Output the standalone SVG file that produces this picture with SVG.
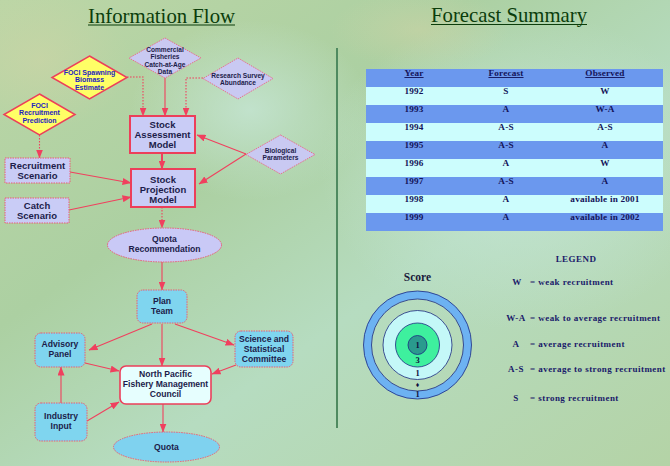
<svg xmlns="http://www.w3.org/2000/svg" width="670" height="466" viewBox="0 0 670 466">
<defs>
<linearGradient id="bg" x1="0" y1="0" x2="1" y2="1">
<stop offset="0" stop-color="#bcd6a6"/>
<stop offset="0.35" stop-color="#acd0a2"/>
<stop offset="0.6" stop-color="#b6dcc0"/>
<stop offset="1" stop-color="#b4d3a6"/>
</linearGradient>
<radialGradient id="glow1" cx="0.5" cy="0.5" r="0.5">
<stop offset="0" stop-color="#c6e6d6" stop-opacity="0.8"/>
<stop offset="1" stop-color="#c6e6d6" stop-opacity="0"/>
</radialGradient>
<radialGradient id="glow2" cx="0.5" cy="0.5" r="0.5">
<stop offset="0" stop-color="#d2d4a6" stop-opacity="0.5"/>
<stop offset="1" stop-color="#d2d4a6" stop-opacity="0"/>
</radialGradient>
<marker id="ah" markerUnits="userSpaceOnUse" markerWidth="9" markerHeight="7" refX="8.5" refY="3.5" orient="auto">
<path d="M0,0 L9,3.5 L0,7 z" fill="#f0405e"/>
</marker>
<style>
.box{fill:#c9ccf6;stroke:#ec3f5a;stroke-width:2}
.sbox{fill:#c9ccf6;stroke:#ec5a74;stroke-width:1;stroke-dasharray:1.5,1}
.dia{fill:#c9c9f2;stroke:#e8708e;stroke-width:1;stroke-dasharray:1.5,1}
.ydia{fill:#ffff66;stroke:#ec3f5a;stroke-width:1.5}
.cyan{fill:#7fd5ef;stroke:#ec5a74;stroke-width:1;stroke-dasharray:1.5,1}
.t{font-family:"Liberation Sans",Arial,sans-serif;font-weight:bold;fill:#1c1c4a;text-anchor:middle}
.tb{font-size:9.5px}
.ts{font-size:6.6px}
.ty{font-size:7px;fill:#2424c0}
.tc{font-size:8.6px}
.title{font-family:"Liberation Serif","Times New Roman",serif;font-size:21px;fill:#0b3d0b}
.tab{font-family:"Liberation Serif","Times New Roman",serif;font-weight:bold;font-size:9.2px;fill:#14145a;text-anchor:middle;letter-spacing:0.2px}
.leg{font-family:"Liberation Serif","Times New Roman",serif;font-weight:bold;font-size:9px;fill:#1a1a6a;letter-spacing:0.45px}
.c{fill:none;stroke:#f0405e;stroke-width:1.1;marker-end:url(#ah)}
.d{stroke-dasharray:1.6,1.4}
</style>
</defs>
<rect x="0" y="0" width="670" height="466" fill="url(#bg)"/>
<ellipse cx="520" cy="170" rx="200" ry="160" fill="url(#glow1)"/>
<ellipse cx="250" cy="110" rx="120" ry="90" fill="url(#glow1)"/>
<ellipse cx="40" cy="60" rx="90" ry="70" fill="url(#glow2)"/>
<ellipse cx="420" cy="30" rx="90" ry="40" fill="url(#glow2)"/>

<!-- titles -->
<g id="title-info">
<text class="title" x="88" y="23" textLength="147" lengthAdjust="spacingAndGlyphs">Information Flow</text>
<line x1="88" y1="25" x2="235" y2="25" stroke="#0b3d0b" stroke-width="1.2"/>
</g>
<g id="title-forecast">
<text class="title" x="431" y="22" textLength="156" lengthAdjust="spacingAndGlyphs">Forecast Summary</text>
<line x1="431" y1="24.5" x2="587" y2="24.5" stroke="#0b3d0b" stroke-width="1.2"/>
</g>
<line x1="337" y1="48" x2="337" y2="428" stroke="#4f8a60" stroke-width="2"/>

<!-- connectors -->
<g id="connectors">
<path class="c d" d="M127,77 H143 V116"/>
<path class="c" d="M165,78 V116"/>
<path class="c d" d="M203,78 H186 V116"/>
<path class="c d" d="M39.5,135 V158"/>
<path class="c" d="M246,154 L197,135"/>
<path class="c" d="M246,154 L199,184"/>
<path class="c" style="stroke-width:2" d="M162,153 V169"/>
<path class="c" d="M70,172 L131,183"/>
<path class="c" d="M69,210 L131,197"/>
<path class="c d" d="M162,207 V228"/>
<path class="c" d="M162,262 V290"/>
<path class="c" d="M152,324 L89,350"/>
<path class="c" d="M162,324 V366"/>
<path class="c" d="M175,324 L234,345"/>
<path class="c" d="M85,363 L119,371"/>
<path class="c" d="M236,365 L212,374"/>
<path class="c" d="M61,403 V367"/>
<path class="c" d="M87,421 L119,402"/>
<path class="c" d="M163,404 V432"/>
</g>

<!-- nodes -->
<g id="commercial">
<polygon class="dia" points="165,38 201,58 165,78 129,58"/>
<text class="t ts" x="165" y="52">Commercial</text>
<text class="t ts" x="165" y="59.3">Fisheries</text>
<text class="t ts" x="165" y="66.6">Catch-at-Age</text>
<text class="t ts" x="165" y="73.9">Data</text>
</g>
<g id="foci-spawning">
<polygon class="ydia" points="89.5,56 127,77.5 89.5,99 52,77.5"/>
<text class="t ty" x="89.5" y="75">FOCI Spawning</text>
<text class="t ty" x="89.5" y="82.3">Biomass</text>
<text class="t ty" x="89.5" y="89.6">Estimate</text>
</g>
<g id="research-survey">
<polygon class="dia" points="238,58 273,78.5 238,99 203,78.5"/>
<text class="t ts" x="238" y="77.5">Research Survey</text>
<text class="t ts" x="238" y="85">Abundance</text>
</g>
<g id="foci-recruitment">
<polygon class="ydia" points="39.5,94 75,114.5 39.5,135 4,114.5"/>
<text class="t ty" x="39.5" y="108">FOCI</text>
<text class="t ty" x="39.5" y="115.3">Recruitment</text>
<text class="t ty" x="39.5" y="122.6">Prediction</text>
</g>
<g id="stock-assessment">
<rect class="box" x="130" y="116" width="65" height="37"/>
<text class="t tb" x="162.5" y="127.5">Stock</text>
<text class="t tb" x="162.5" y="137.8">Assessment</text>
<text class="t tb" x="162.5" y="148.1">Model</text>
</g>
<g id="biological">
<polygon class="dia" points="280.5,135 315,154.5 280.5,174 246,154.5"/>
<text class="t ts" x="280.5" y="152.5">Biological</text>
<text class="t ts" x="280.5" y="160">Parameters</text>
</g>
<g id="recruitment-scenario">
<rect class="sbox" x="5" y="158" width="65" height="25"/>
<text class="t tb" x="37.5" y="169">Recruitment</text>
<text class="t tb" x="37.5" y="179">Scenario</text>
</g>
<g id="stock-projection">
<rect class="box" x="131" y="169" width="64" height="38"/>
<text class="t tb" x="163" y="182.5">Stock</text>
<text class="t tb" x="163" y="192.8">Projection</text>
<text class="t tb" x="163" y="203.1">Model</text>
</g>
<g id="catch-scenario">
<rect class="sbox" x="5" y="198" width="64" height="25"/>
<text class="t tb" x="37" y="209">Catch</text>
<text class="t tb" x="37" y="219">Scenario</text>
</g>
<g id="quota-recommendation">
<ellipse cx="164.5" cy="245" rx="57" ry="17" fill="#c9c9f6" stroke="#ec5a74" stroke-width="1" stroke-dasharray="1.5,1"/>
<text class="t tc" x="164.5" y="241.5">Quota</text>
<text class="t tc" x="164.5" y="251.5">Recommendation</text>
</g>
<g id="plan-team">
<rect class="cyan" x="137" y="290" width="50" height="33" rx="6"/>
<text class="t tc" x="162" y="303.5">Plan</text>
<text class="t tc" x="162" y="313.5">Team</text>
</g>
<g id="advisory-panel">
<rect class="cyan" x="35" y="333" width="50" height="34" rx="6"/>
<text class="t tc" x="60" y="346.5">Advisory</text>
<text class="t tc" x="60" y="356.5">Panel</text>
</g>
<g id="ssc">
<rect class="cyan" x="235" y="331" width="58" height="36" rx="6"/>
<text class="t tc" x="264" y="341.5">Science and</text>
<text class="t tc" x="264" y="351.5">Statistical</text>
<text class="t tc" x="264" y="361.5">Committee</text>
</g>
<g id="npfmc">
<rect x="120" y="366" width="91" height="38" rx="6" fill="#e6fefe" stroke="#ec3f5a" stroke-width="1.6"/>
<text class="t tc" x="165.5" y="376.5">North Pacific</text>
<text class="t tc" x="165.5" y="386.5">Fishery Management</text>
<text class="t tc" x="165.5" y="396.5">Council</text>
</g>
<g id="industry-input">
<rect class="cyan" x="35" y="403" width="52" height="38" rx="6"/>
<text class="t tc" x="61" y="418.5">Industry</text>
<text class="t tc" x="61" y="428.5">Input</text>
</g>
<g id="quota">
<ellipse cx="166.5" cy="447" rx="53" ry="15" fill="#7fd2ef" stroke="#ec5a74" stroke-width="1" stroke-dasharray="1.5,1"/>
<text class="t tc" x="166.5" y="450">Quota</text>
</g>

<!-- forecast table -->
<g id="forecast-table">
<rect x="366" y="69" width="297" height="18" fill="#6b98ee"/>
<rect x="366" y="87" width="297" height="18" fill="#ccfdfd"/>
<rect x="366" y="105" width="297" height="18" fill="#6b98ee"/>
<rect x="366" y="123" width="297" height="18" fill="#ccfdfd"/>
<rect x="366" y="141" width="297" height="18" fill="#6b98ee"/>
<rect x="366" y="159" width="297" height="18" fill="#ccfdfd"/>
<rect x="366" y="177" width="297" height="18" fill="#6b98ee"/>
<rect x="366" y="195" width="297" height="18" fill="#ccfdfd"/>
<rect x="366" y="213" width="297" height="18" fill="#6b98ee"/>
<text class="tab" x="414" y="76" text-decoration="underline">Year</text>
<text class="tab" x="506" y="76" text-decoration="underline">Forecast</text>
<text class="tab" x="605" y="76" text-decoration="underline">Observed</text>
<text class="tab" x="414" y="94">1992</text><text class="tab" x="506" y="94">S</text><text class="tab" x="605" y="94">W</text>
<text class="tab" x="414" y="112">1993</text><text class="tab" x="506" y="112">A</text><text class="tab" x="605" y="112">W-A</text>
<text class="tab" x="414" y="130">1994</text><text class="tab" x="506" y="130">A-S</text><text class="tab" x="605" y="130">A-S</text>
<text class="tab" x="414" y="148">1995</text><text class="tab" x="506" y="148">A-S</text><text class="tab" x="605" y="148">A</text>
<text class="tab" x="414" y="166">1996</text><text class="tab" x="506" y="166">A</text><text class="tab" x="605" y="166">W</text>
<text class="tab" x="414" y="184">1997</text><text class="tab" x="506" y="184">A-S</text><text class="tab" x="605" y="184">A</text>
<text class="tab" x="414" y="202">1998</text><text class="tab" x="506" y="202">A</text><text class="tab" x="605" y="202">available in 2001</text>
<text class="tab" x="414" y="220">1999</text><text class="tab" x="506" y="220">A</text><text class="tab" x="605" y="220">available in 2002</text>
</g>

<!-- score target -->
<g id="score">
<text x="417.5" y="281" text-anchor="middle" font-family="'Liberation Serif','Times New Roman',serif" font-weight="bold" font-size="11.5" fill="#1a1a3a">Score</text>
<circle cx="417.5" cy="345" r="50" fill="none" stroke="#6db2f2" stroke-width="8"/>
<circle cx="417.5" cy="345" r="54" fill="none" stroke="#1c2a80" stroke-width="0.8"/>
<circle cx="417.5" cy="345" r="46" fill="none" stroke="#1c2a80" stroke-width="0.8"/>
<circle cx="417.5" cy="345" r="34.5" fill="#c4f8f8" stroke="#1c2a80" stroke-width="0.8"/>
<circle cx="417.5" cy="345" r="22" fill="#3ef09e" stroke="#1c2a80" stroke-width="0.8"/>
<circle cx="417.5" cy="345" r="9.5" fill="#2a9a8e" stroke="#1c2a80" stroke-width="0.8"/>
<g font-family="'Liberation Serif','Times New Roman',serif" font-weight="bold" font-size="8.5" fill="#101040" text-anchor="middle">
<text x="417.5" y="348">1</text>
<text x="417.5" y="362.5">3</text>
<text x="417.5" y="375.5">1</text>
<text x="417.5" y="386.5" font-size="7">♦</text>
<text x="417.5" y="396.5">1</text>
</g>
</g>

<!-- legend -->
<g id="legend">
<text class="leg" x="576" y="262" text-anchor="middle" font-weight="normal">LEGEND</text>
<text class="leg" x="517" y="285" text-anchor="middle">W</text><text class="leg" x="530" y="285">= weak recruitment</text>
<text class="leg" x="516" y="321" text-anchor="middle">W-A</text><text class="leg" x="530" y="321">= weak to average recruitment</text>
<text class="leg" x="516" y="347" text-anchor="middle">A</text><text class="leg" x="530" y="347">= average recruitment</text>
<text class="leg" x="516" y="372" text-anchor="middle">A-S</text><text class="leg" x="530" y="372">= average to strong recruitment</text>
<text class="leg" x="516" y="401" text-anchor="middle">S</text><text class="leg" x="530" y="401">= strong recruitment</text>
</g>
</svg>
